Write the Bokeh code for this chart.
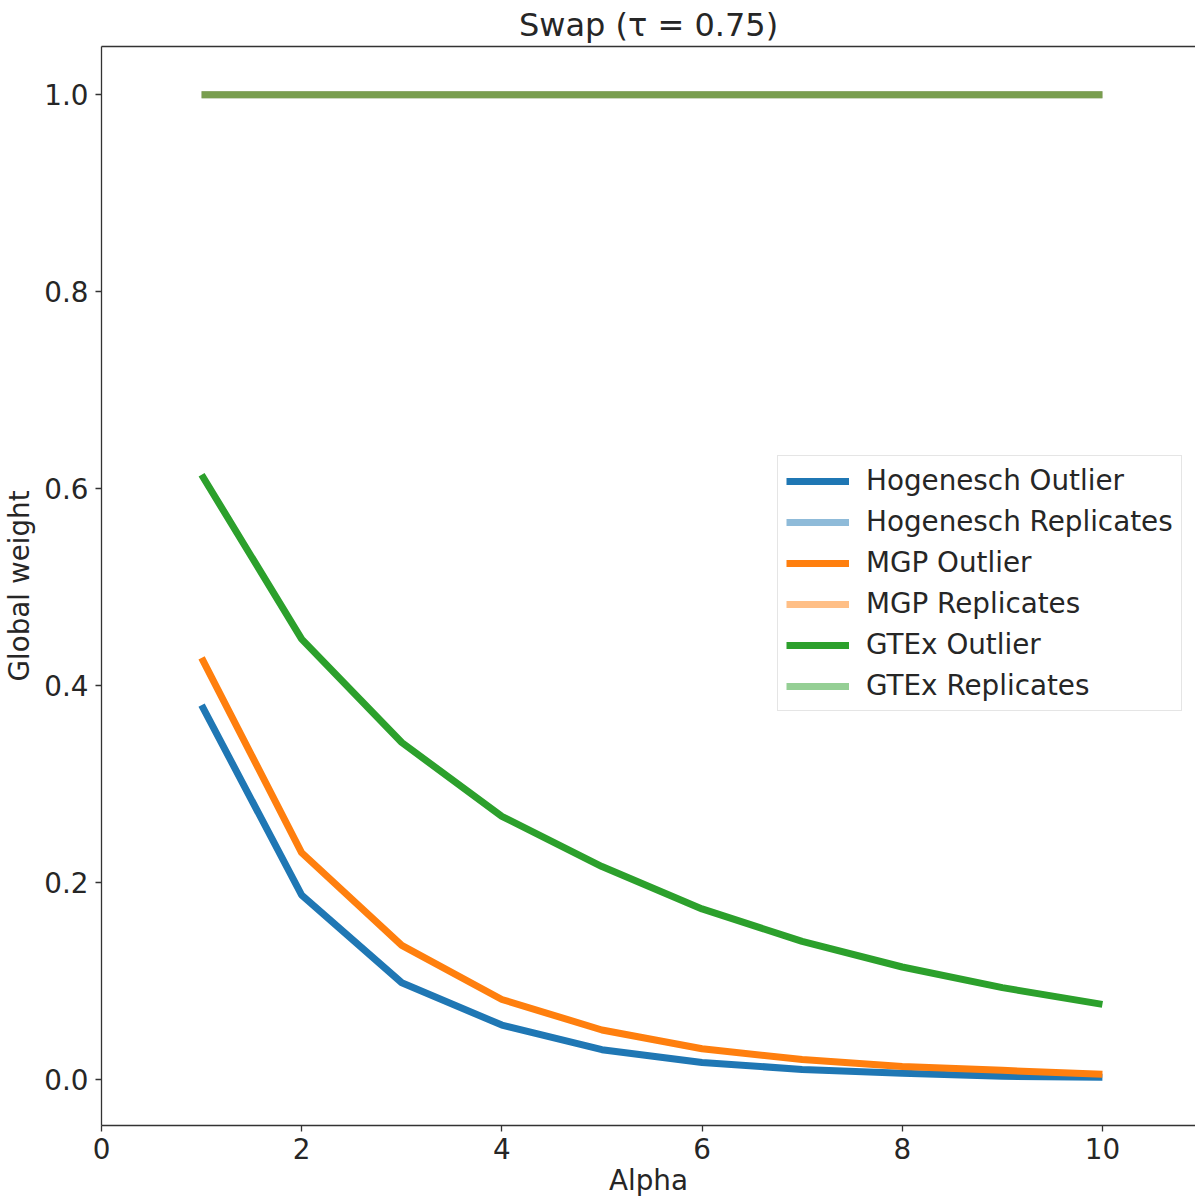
from bokeh.plotting import figure
from bokeh.models import (Range1d, FixedTicker, PrintfTickFormatter, Legend, LegendItem,
                          LinearAxis)
from bokeh.embed import file_html
from bokeh.resources import INLINE

alpha = [1, 2, 3, 4, 5, 6, 7, 8, 9, 10]
hogenesch_outlier = [0.380, 0.187, 0.098, 0.055, 0.030, 0.017, 0.010, 0.006, 0.003, 0.002]
hogenesch_replicates = [1.0] * 10
mgp_outlier = [0.428, 0.230, 0.136, 0.081, 0.050, 0.031, 0.020, 0.013, 0.009, 0.005]
mgp_replicates = [1.0] * 10
gtex_outlier = [0.614, 0.447, 0.342, 0.267, 0.216, 0.173, 0.140, 0.114, 0.093, 0.076]
gtex_replicates = [1.0] * 10

x_ticks = [0, 2, 4, 6, 8, 10]
y_ticks = [0.0, 0.2, 0.4, 0.6, 0.8, 1.0]

FONT = "DejaVu Sans"
TXT = "#262626"
SPINE = "#333333"
FS = "27.8px"

p = figure(width=1195, height=1203, output_backend="svg", toolbar_location=None,
           x_range=Range1d(0, 10.93), y_range=Range1d(-0.047, 1.049),
           min_border_left=101, min_border_right=0, min_border_top=44, min_border_bottom=78)
p.title.text = "Swap (\u03c4 = 0.75)"
p.title.align = "center"
p.title.text_font = FONT
p.title.text_font_size = "32px"
p.title.text_font_style = "normal"
p.title.text_color = TXT
p.title.offset = 0
p.title.standoff = 6

p.outline_line_color = None
p.grid.visible = False
p.background_fill_color = "white"
p.border_fill_color = "white"

for ax in (p.xaxis[0], p.yaxis[0]):
    ax.axis_line_color = SPINE
    ax.axis_line_width = 1.3
    ax.major_tick_line_color = SPINE
    ax.major_tick_line_width = 1.3
    ax.major_tick_out = 6
    ax.major_tick_in = 0
    ax.minor_tick_line_color = None
    ax.major_label_text_font = FONT
    ax.major_label_text_font_size = FS
    ax.major_label_text_color = TXT
    ax.axis_label_text_font = FONT
    ax.axis_label_text_font_size = FS
    ax.axis_label_text_font_style = "normal"
    ax.axis_label_text_color = TXT

p.xaxis.ticker = FixedTicker(ticks=x_ticks)
p.yaxis.ticker = FixedTicker(ticks=y_ticks)
p.yaxis.formatter = PrintfTickFormatter(format="%.1f")
p.xaxis.axis_label = "Alpha"
p.yaxis.axis_label = "Global weight"
p.xaxis.major_label_standoff = 6
p.yaxis.major_label_standoff = 7
p.xaxis.axis_label_standoff = 2
p.yaxis.axis_label_standoff = 5

top = LinearAxis(ticker=FixedTicker(ticks=[]), axis_line_color=SPINE, axis_line_width=1.3,
                 major_label_text_font_size="0px", major_tick_line_color=None,
                 minor_tick_line_color=None)
p.add_layout(top, "above")

LW = 7
series = [
    ("Hogenesch Outlier", hogenesch_outlier, "#1f77b4", 1.0),
    ("Hogenesch Replicates", hogenesch_replicates, "#1f77b4", 0.5),
    ("MGP Outlier", mgp_outlier, "#ff7f0e", 1.0),
    ("MGP Replicates", mgp_replicates, "#ff7f0e", 0.5),
    ("GTEx Outlier", gtex_outlier, "#2ca02c", 1.0),
    ("GTEx Replicates", gtex_replicates, "#2ca02c", 0.5),
]
items = []
for name, ys, col, a in series:
    r = p.line(alpha, ys, line_color=col, line_alpha=a, line_width=LW, line_cap="butt")
    items.append(LegendItem(label=name, renderers=[r]))

legend = Legend(items=items, location=(676, 414))
legend.label_text_font = FONT
legend.label_text_font_size = FS
legend.label_text_color = TXT
legend.glyph_width = 63
legend.glyph_height = 32
legend.label_height = 32
legend.label_standoff = 17
legend.spacing = 8
legend.padding = 8
legend.margin = 0
legend.border_line_color = "#cccccc"
legend.border_line_width = 1.3
legend.background_fill_alpha = 0.8
p.add_layout(legend, "center")

open("out.html", "w").write(file_html(p, INLINE))
